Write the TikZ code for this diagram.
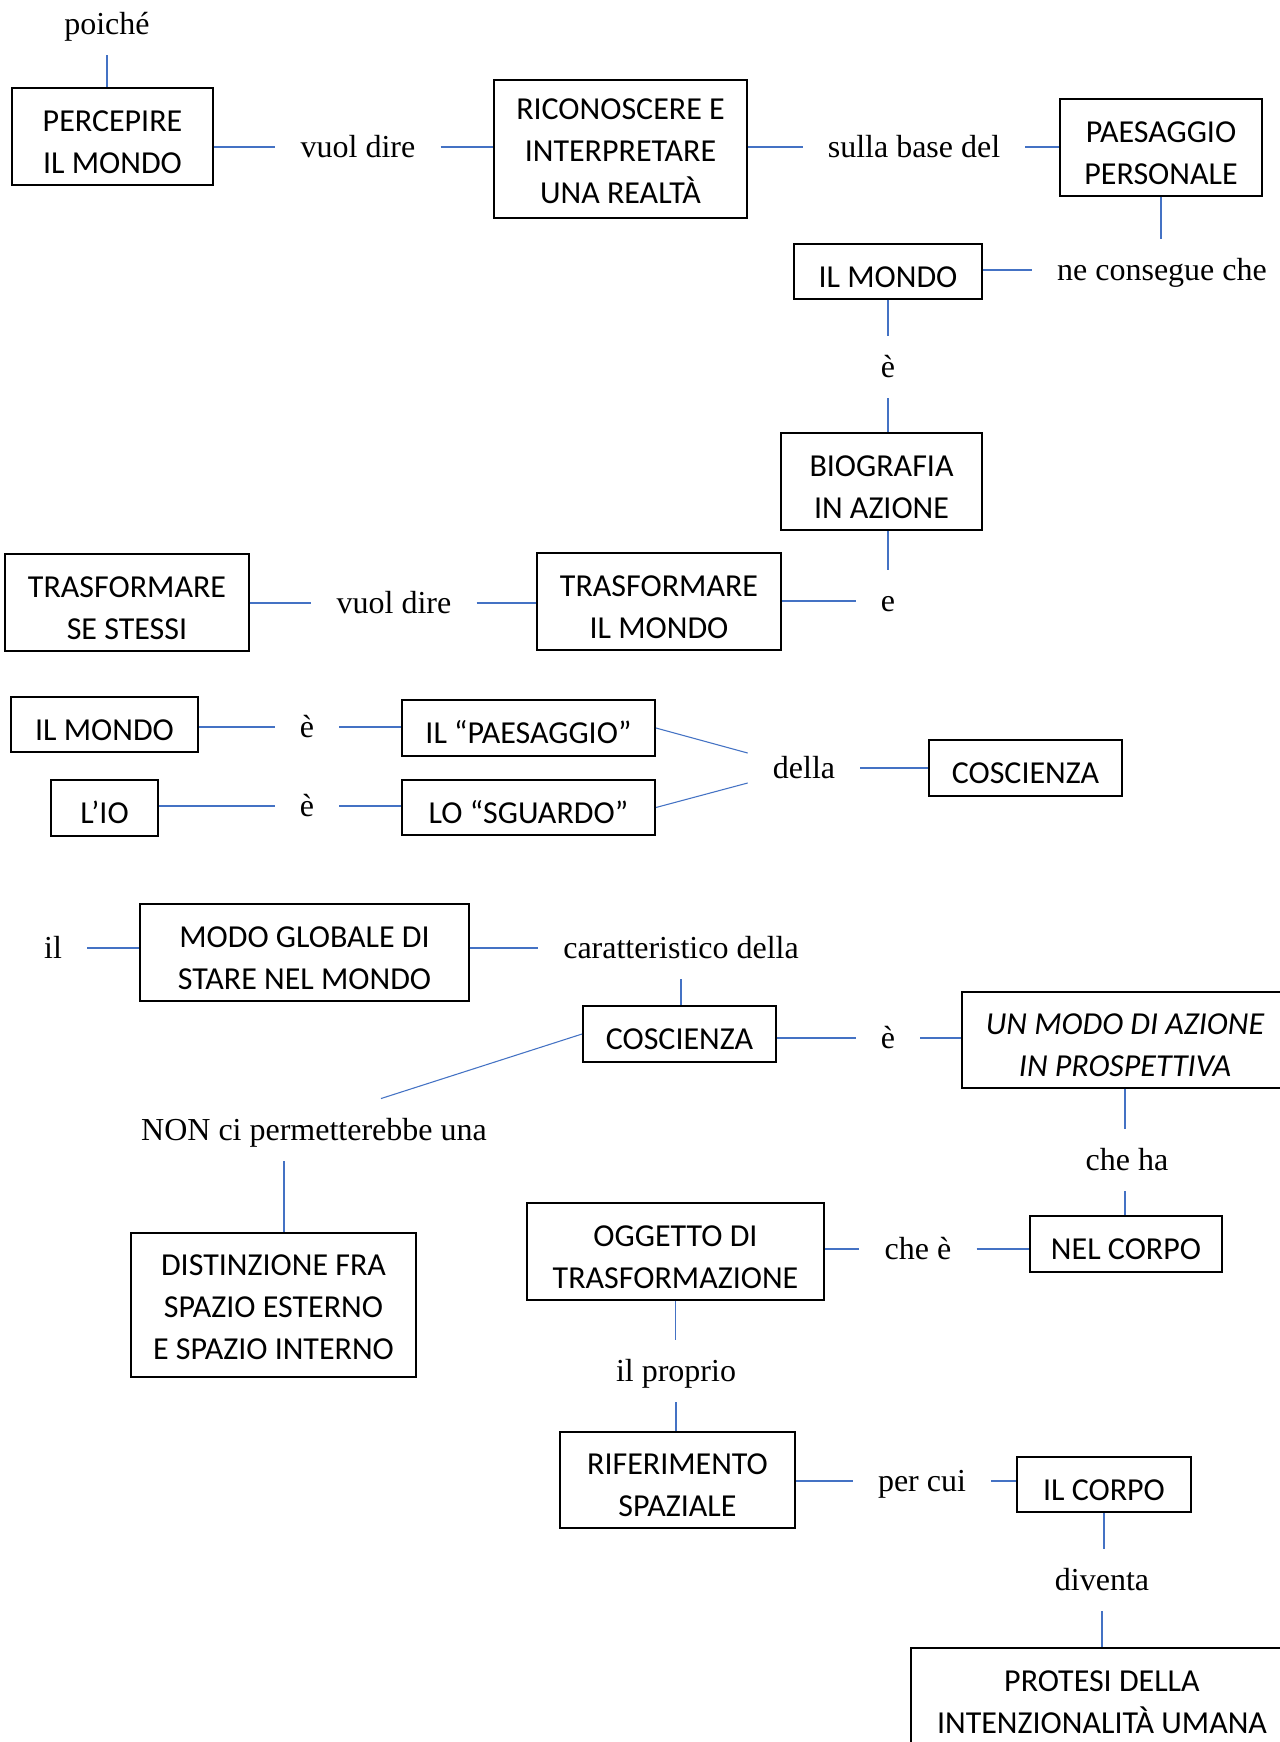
\documentclass[tikz,border=0pt]{standalone}
\usepackage{fontspec}
\usetikzlibrary{calc}
\newfontfamily\boxfont{Carlito}
\newfontfamily\labelfont{Liberation Serif}
\definecolor{linkblue}{HTML}{4472C4}
% invisible struts that set the height of a box's first text line
\newcommand\capstrut{\rule{0pt}{23.5pt}}
\newcommand\capstrutlow{\rule{0pt}{19.3pt}}
\tikzset{
  concept/.style 2 args={draw=black, line width=1.4pt, inner sep=0pt, align=center,
    font=\boxfont\fontsize{24pt}{31.5pt}\selectfont,
    minimum width=#1*0.75pt, minimum height=#2*0.75pt},
  link/.style={inner xsep=18.75pt, inner ysep=12pt,
    font=\labelfont\fontsize{24pt}{28pt}\selectfont,
    text height=19.3pt, text depth=3.5pt},
  conn/.style={draw=linkblue, line width=0.8pt}
}
\begin{document}
\begin{tikzpicture}[x=0.75pt, y=-0.75pt]
\fill[white] (0,0) rectangle (1280,1742);
\useasboundingbox (0,0) rectangle (1280,1742);
\clip (0,0) rectangle (1280,1742);

% --- top chain ---
\node[link] (poiche) at (107,24) {poiché};
\node[concept={201}{97}] (perc) at (112.5,136.5) {\capstrut PERCEPIRE\\IL MONDO};
\node[link] (vd1) at (358,147) {vuol dire};
\node[concept={253}{138}] (ricon) at (620.5,149) {\capstrutlow RICONOSCERE E\\INTERPRETARE\\UNA REALTÀ};
\node[link] (sbd) at (914,147) {sulla base del};
\node[concept={202}{97}] (paesp) at (1161,147.5) {\capstrut PAESAGGIO\\PERSONALE};
\node[link] (nec) at (1162,270) {ne consegue che};
\node[concept={188}{55}] (mondo2) at (888,271.5) {\capstrut IL MONDO};
\node[link] (e1) at (888,367) {è};
\node[concept={201}{97}] (bio) at (881.5,481.5) {\capstrut BIOGRAFIA\\IN AZIONE};
\node[link] (e2) at (888,601) {e};
\node[concept={244}{97}] (trmondo) at (659,601.5) {\capstrut TRASFORMARE\\IL MONDO};
\node[link] (vd2) at (394,603) {vuol dire};
\node[concept={244}{97}] (trse) at (127,602.5) {\capstrut TRASFORMARE\\SE STESSI};

% --- paesaggio / sguardo ---
\node[concept={187}{55}] (mondo3) at (104.5,724.5) {\capstrut IL MONDO};
\node[link] (e3) at (307,727) {è};
\node[concept={253}{56}] (paes) at (528.5,728) {\capstrut IL “PAESAGGIO”};
\node[concept={107}{56}] (io) at (104.5,808) {\capstrut L’IO};
\node[link] (e4) at (307,806) {è};
\node[concept={253}{55}] (sguardo) at (528.5,807.5) {\capstrut LO “SGUARDO”};
\node[link] (della) at (804,768) {della};
\node[concept={193}{56}] (coscA) at (1025.5,768) {\capstrut COSCIENZA};

% --- coscienza e corpo ---
\node[link] (il) at (53,948) {il};
\node[concept={329}{97}] (modo) at (304.5,952.5) {\capstrut MODO GLOBALE DI\\STARE NEL MONDO};
\node[link] (cdella) at (681,948) {caratteristico della};
\node[concept={193}{56}] (coscB) at (679.5,1034) {\capstrut COSCIENZA};
\node[link] (e5) at (888,1038) {è};
\node[concept={326}{96}, font=\boxfont\itshape\fontsize{24pt}{31.5pt}\selectfont] (azione) at (1125,1040) {\capstrut UN MODO DI AZIONE\\IN PROSPETTIVA};
\node[link] (non) at (314,1130) {NON ci permetterebbe una};
\node[concept={285}{144}] (dist) at (273.5,1305) {\capstrutlow DISTINZIONE FRA\\SPAZIO ESTERNO\\E SPAZIO INTERNO};
\node[link] (cheha) at (1127,1160) {che ha};
\node[concept={192}{56}] (corpo1) at (1126,1244) {\capstrut NEL CORPO};
\node[link] (chee) at (918,1249) {che è};
\node[concept={297}{97}] (oggetto) at (675.5,1251.5) {\capstrut OGGETTO DI\\TRASFORMAZIONE};
\node[link] (proprio) at (676,1371) {il proprio};
\node[concept={235}{96}] (rif) at (677.5,1480) {\capstrut RIFERIMENTO\\SPAZIALE};
\node[link] (percui) at (922,1481) {per cui};
\node[concept={174}{55}] (corpo2) at (1104,1484.5) {\capstrut IL CORPO};
\node[link] (diventa) at (1102,1580) {diventa};
\node[concept={382}{98}] (protesi) at (1102,1697) {\capstrut PROTESI DELLA\\INTENZIONALITÀ UMANA};

% --- connectors ---
\draw[conn] (poiche.south) -- (poiche.south |- perc.north);
\draw[conn] (vd1.west -| perc.east) -- (vd1.west);
\draw[conn] (vd1.east) -- (vd1.east -| ricon.west);
\draw[conn] (sbd.west -| ricon.east) -- (sbd.west);
\draw[conn] (sbd.east) -- (sbd.east -| paesp.west);
\draw[conn] (paesp.south) -- (paesp.south |- nec.north);
\draw[conn] (nec.west -| mondo2.east) -- (nec.west);
\draw[conn] (mondo2.south) -- (mondo2.south |- e1.north);
\draw[conn] (e1.south) -- (e1.south |- bio.north);
\draw[conn] (bio.south -| e2.north) -- (e2.north);
\draw[conn] (e2.west -| trmondo.east) -- (e2.west);
\draw[conn] (vd2.east) -- (vd2.east -| trmondo.west);
\draw[conn] (vd2.west -| trse.east) -- (vd2.west);

\draw[conn] (e3.west -| mondo3.east) -- (e3.west);
\draw[conn] (e3.east) -- (e3.east -| paes.west);
\draw[conn] (e4.west -| io.east) -- (e4.west);
\draw[conn] (e4.east) -- (e4.east -| sguardo.west);
\draw[conn] (paes.east) -- ($(della.west)+(0,-15)$);
\draw[conn] (sguardo.east) -- ($(della.west)+(0,15)$);
\draw[conn] (della.east) -- (della.east -| coscA.west);

\draw[conn] (il.east) -- (il.east -| modo.west);
\draw[conn] (cdella.west -| modo.east) -- (cdella.west);
\draw[conn] (cdella.south) -- (cdella.south |- coscB.north);
\draw[conn] (e5.west -| coscB.east) -- (e5.west);
\draw[conn] (e5.east) -- (e5.east -| azione.west);
\draw[conn] (coscB.west) -- ($(non.north)+(67,0)$);
\draw[conn] ($(non.south)+(-30,0)$) coordinate (nonfoot) -- (nonfoot |- dist.north);
\draw[conn] (azione.south) -- (azione.south |- cheha.north);
\draw[conn] (azione.south |- cheha.south) -- (azione.south |- corpo1.north);
\draw[conn] (chee.east) -- (chee.east -| corpo1.west);
\draw[conn] (chee.west -| oggetto.east) -- (chee.west);
\draw[conn] (oggetto.south) -- (oggetto.south |- proprio.north);
\draw[conn] (proprio.south) -- (proprio.south |- rif.north);
\draw[conn] (percui.west -| rif.east) -- (percui.west);
\draw[conn] (percui.east) -- (percui.east -| corpo2.west);
\draw[conn] (corpo2.south) -- (corpo2.south |- diventa.north);
\draw[conn] (diventa.south) -- (diventa.south |- protesi.north);
\end{tikzpicture}
\end{document}
